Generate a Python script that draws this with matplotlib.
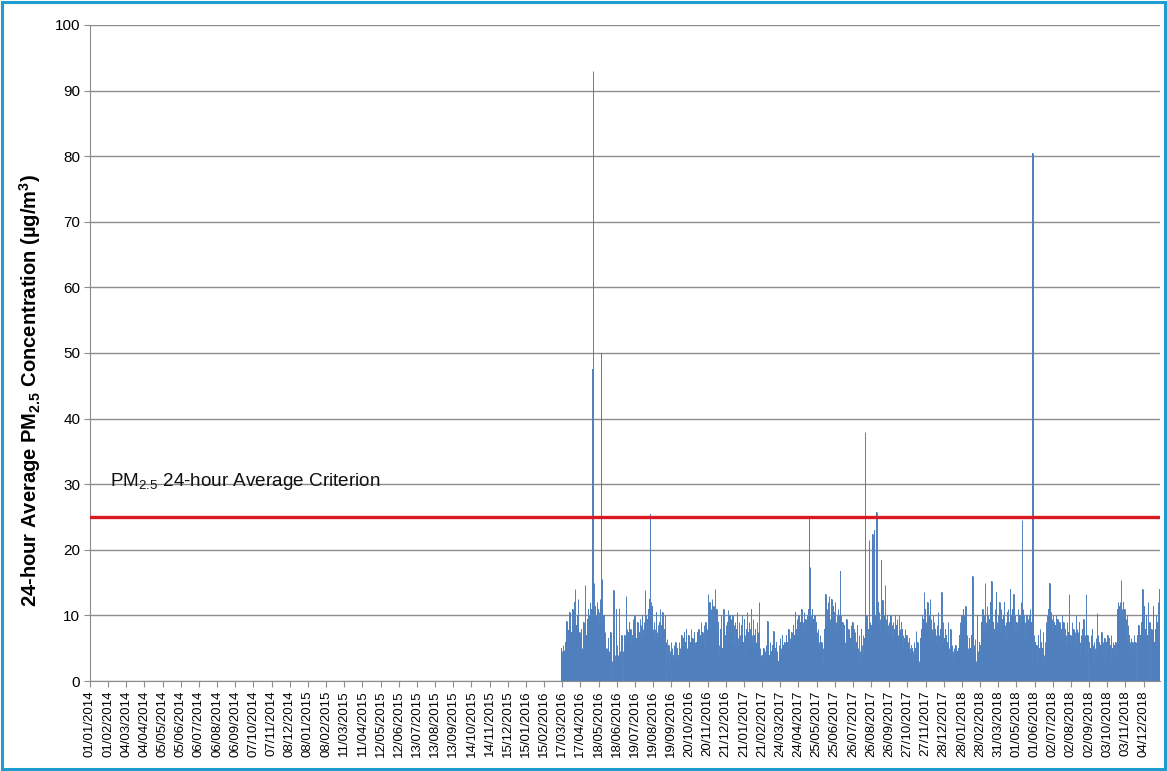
import numpy as np
import pandas as pd
import matplotlib
matplotlib.use("Agg")
import matplotlib.pyplot as plt
from matplotlib.patches import Rectangle

plt.rcParams['font.family'] = ['Liberation Sans', 'DejaVu Sans']
plt.rcParams['mathtext.fontset'] = 'custom'
plt.rcParams['mathtext.rm'] = 'Liberation Sans'
plt.rcParams['mathtext.it'] = 'Liberation Sans:italic'
plt.rcParams['mathtext.bf'] = 'Liberation Sans:bold'

# daily 24-hour average PM2.5 (ug/m3); None = no valid data that day
axis_start = '2014-01-01'
axis_end = '2018-12-31'
data_start = '2016-03-15'

pm25_2016 = [
    5, 4.5, 4, 5.5, 4.8, 4.2, None, 6, 8.5, 9.2, 7, 5.5, 7.8, 6.2, 10.5, 8, 6.5,  # Mar 15-31
    7.5, 9, 11, 8, 6.5, 12, 14, 9.5, 7, 8.5, 10, 12.5, 8, 6, 7.5,
    5.5, 6.5, 8, 5, 4.5, 7, 9, 6, 14.6, 8, 5.5, 7, 6.5, 9.5, 11,  # Apr
    8, 10, 12, 9, 11, 13, 47.5, 93, 15, 10, 9, 11.5, 8.5, 10, 12, 9.5,
    11, 10.5, 8, 12.5, 11, 50, 15.5, 11, 9, 10, 8, 7.5, 6, 5, 4.5,  # May
    5, 4, 6.5, 4.5, 3.5, 5, 7.5, 4, 3, None, 5, 13.8, 7, 4, 3,
    6, 11, 5.5, 4, 3.5, 11.2, 6, 4.5, 2.5, 5, 7, 3, 4.5, None, 6,  # Jun
    7, 5.5, 13, 10.5, 8, 6, 7.5, 5, 9, 6.5, 8, 5.5, 4.5, 7, 9.5, 6,
    8, 10, 7, 5.5, 6.5, 8, 9, 6, 5, 7.5, 9.5, 6, 8.5, 7, 10,  # Jul
    8, 6.5, 9, 7, 13.8, 10, 8, 6.5, 9.5, 7, 11, 12.5, 20.5, 25.5, 12, 9,
    11.5, 8, 7.5, 9, 6.5, 8, 7, 10.5, 7.5, 6, 8.5, 7, 9, 11, 6.5,  # Aug
    7, 8.5, 6, 10.5, 7.5, 5.5, 8, 10, 6, None, 6.4, 4, 3, 5.5, 2.5,
    4.5, 3.5, 6, 5, 3, 2.3, 4, 5.5, 3.5, 4.5, 6, 3, 4, 5, 3.5,  # Sep
    4, 6, 5, 3.5, 4.5, 7, 5.5, 4, 6.5, 5, 7.5, 4.5, 6, 8, 5, 4,
    6.5, 7, 5.5, 4.5, 6, 8, 7, 5, 6.5, 4, 5.5, 7.5, 6, 5, 4.5,  # Oct
    6, 7.5, 5, 8, 6.5, 4.5, 7, 9, 6, 5.5, 7.5, 6, 8.5, 5, 7,
    9, 6.5, 8, 7, 13.3, 10, 8.5, 12, 9.5, 11, 8, 12.5, 10, 9, 11.5,  # Nov
    9, 14, 10.5, 8, 11, 7.5, 6, 9, 5.5, 3.5, 8, 10, 7, 2.5, 5, 9.5,
    11, 6.5, 4, 7, 8.5, 5, 9, 10.8, 7, 8.5, 10, 6, 9.5, 5.5, 8,  # Dec
]

pm25_2017 = [
    10, 7, 8.5, 6, 9, 5.5, None, 8, 10.5, 6.5, 5, 9, 7, 4.5, 6, 8.5,
    10, 7.5, 5, 6, 9.5, 7, 4, 5.5, 8, 10.5, 6, 7.5, 9, 5, 6.5,  # Jan
    8, 11, 7, 6, 9.5, 5, 4.5, 7, 8, 6, 5.5, 9, 7.5, 6,
    12, 8, 5, 4, 3, 2.5, 4, 3.5, 5, 2, 4.5, 3, 5.5, 4,  # Feb
    2.5, 9.2, 5, 3.5, 4, 6, 3, 2, 4.5, 5.5, 3, 7.7, 4, 2.5, 5, 3.5,
    6, 4.5, 2, 3, 5.5, 4, 6.5, 3.5, 5, 4, 7, 3, 5.5, 4.5, 6,  # Mar
    5, 3.5, 7, 4.5, 6, 5, 8, 4, 6.5, 5.5, 3, 7.5, 6, 4.5, 8.5,
    5, 7, 10.5, 6, 8, 9.5, 7, 5.5, 10, 8, 6.5, 9, 7.5, 11, 8,  # Apr
    9, 7, 10.5, 8, 6, 9.5, 7.5, 8.5, 10, 9, 11, 24.8, 17.4, 12, 10, 9,
    11, 8.5, 9.5, 7, 10, 8, 6.5, 9, 7.5, 5, 8, 6, 4.5, 7, 5.5,  # May
    4, 6, 3.5, 5, 2.5, 4.5, 8, 10, 13.3, 9, 11, 8.5, 12, 10, 13,
    9.5, 8, 11, 12.5, 10, 9, 11.5, 8, 10.5, 12, 9, 7.5, 10, 8.5, 11,  # Jun
    9, 8, 10, 16.7, 10, 8, 6.5, 9, 7, 5, 8.5, 6, 4.5, 7.5, 9.5, 6,
    5, 8, 7, 4, 6.5, 8.5, 5.5, 7, 9, 6, 5, 8, 7.5, 4.5, 6,  # Jul
    6, 8.5, 5, 3, 7, 4.5, 2.3, 6, 8, 5.5, 4, 7, 3.5, 6.5, 38, 9,
    7, 10, 6, 4.5, 8, 21.5, 9, 6.5, 5, 8.5, 10, 22.4, 7, 9.5, 23,  # Aug
    8, 10, 6.5, 25.8, 9, 7, 12, 10.5, 8, 9.5, 6, 18.4, 8.5, 12.3, 9,
    7.5, 10, 14.6, 8, 9.5, 7, 10, 8.5, 6.5, 9, 7.5, 8, 10, 6.5, 8.5,  # Sep
    7, 9, 6.5, 8, 10, 7.5, 6, 8.5, 9.5, 7, 6, 10, 8, 7.5, 5.5, 9,
    6.5, 8, 7, 5, 6.5, 8, 6, 5.5, 7, 4.5, 6, 5, 4, 6.5, 5,  # Oct
    4, 5.5, 3.5, 5, 4.5, 3, 6, 4, 5, 7.7, 3.5, 4.5, 6, 5, 3,
    1.8, 4, 6.5, 5, 8, 10, 7, 9.5, 13.6, 8.5, 11, 9, 7.5, 10.5, 12,  # Nov
    9, 8, 10, 12.5, 7, 9.5, 8, 6.5, 10, 7.5, 9, 6, 8, 7, 5.5, 8.5,
    6, 10.5, 7, 4.5, 6, 8, 5, 13.6, 7, 9, 5.5, 4, 6.5, 8, 5,  # Dec
]

pm25_2018 = [
    7, 4.5, 6, 9, 5, 3.5, 6.5, 8, 4, 5.5, 3.5, 4.5, 3, 5, 4, 3.5,
    5.5, 4, 3, 4.5, 3.5, 5, 7, 9, 6, 8.5, 10, 7.5, 9, 11, 8,  # Jan
    10, 8, 11.5, 9, 7, 6, 5, 4, 6.5, 3, 5, 4.5, 7, 9,
    16, 8, 5.5, 4, 6.4, 3, 2.3, 5, 10, 4.5, 3.5, 6, 4, 5.5,  # Feb
    7, 9, 6.5, 11, 8, 10, 7.5, 15, 9, 8, 11.5, 7, 10, 8.5, 6, 9.5,
    12, 8, 15.2, 10, 7, 9, 6.5, 8, 11, 8, 13.6, 9, 7, 10, 8,  # Mar
    9, 12, 7.5, 11, 8, 6, 9.5, 10, 7, 12, 8.5, 6.5, 9, 7, 10.5,
    11, 8, 6, 9, 14, 7.5, 10, 8, 11, 6.5, 13.3, 7, 10, 8, 6,  # Apr
    9, 7, 11, 8.5, 6, 10, 8, 12, 9, 24.5, 11, 8, 10, 7.5, 9, 6,
    8.5, 10, 7, 9.5, 8, 6.5, 10, 11, 8, 9, 12, 80.5, 18.4, 7, 5,  # May
    4, 6, 3, 5.5, 2, 4.5, 7, 3.5, 5, 8, 4, 6, 3, 5, 7.5,
    4, 2.5, 6, 5, 9, 7.5, 10, 8, 11, 9, 14.9, 7, 10.5, 8.5, 9.5,  # Jun
    8, 10, 7, 9, 6, 8.5, 10, 7.5, 9, 9.5, 8, 6, 9, 7, 5.5, 8,
    10, 6.5, 7, 9, 5, 6.5, 8, 7, 5.5, 9, 6, 7.5, 13.3, 8.5, 6,  # Jul
    7, 5.5, 9, 6.5, 4.5, 8, 6, 7.5, 5, 10, 6.5, 8, 7.5, 7, 5.5, 9,
    6, 4, 7, 5.5, 8, 6, 9.5, 5, 7, 4.5, 13.3, 8, 5, 7, None,  # Aug
    4, 6, 3.5, 5, 7, 4.5, 8, 5.5, 3, 6, 5, 4, 6.5, 3.5, 10.3,
    5, 7, 4, 6, 3, 5.5, 4.5, 7.5, 3.5, 6, 5, 4, 6.5, 3, 5,  # Sep
    6, 4.5, 7, 5, 3.5, 6.5, 4, 5.5, 7, 3, 5, 6, 4.5, 3.5, 5.5, 4,
    6, 3, None, 11, 12, 10, 11.5, 12, 10, 15.4, 9.5, 11, 10, 12, 9,  # Oct
    11, 8, 9.5, 7, 10, 6, 8.5, 5.5, 7, 6, 5, 6.5, 4.5, 5.5, 6,
    5, 7, 4, 5.5, 6, None, 5, 7, 6, 8.5, 5, 4, 7, 6, 9,  # Nov
    8, 14, 9, 7, 11.5, 6, 8, 10, 5.5, 7, 12, 6, 8, 9, None, 6,
    8, 5, 7.5, 11.5, 4, 6, None, 8, 10, 7, 9, 12, 6, 11, 14,  # Dec
]

criterion = 25

t0 = pd.Timestamp(axis_start)
n_days = (pd.Timestamp(axis_end) - t0).days + 1
values = np.array(pm25_2016 + pm25_2017 + pm25_2018, dtype=float)
first = (pd.Timestamp(data_start) - t0).days
day = first + np.arange(len(values))

fig = plt.figure(figsize=(11.67, 7.71), dpi=100)
ax = fig.add_axes([0.0771, 0.1167, 0.9169, 0.851])

bar_color = '#4f80bd'
ok = ~np.isnan(values)
ax.bar(day[ok] + 0.5, values[ok], width=1.0, color=bar_color, linewidth=0)
# one-day bars are narrower than a pixel, so trace each one as a thin line too
ax.vlines(day[ok] + 0.5, 0, values[ok], color=bar_color, linewidth=0.7)

ax.axhline(criterion, color='#d9181f', linewidth=2.4, zorder=3)
ax.text(34, 30.4, 'PM$_{2.5}$ 24-hour Average Criterion', fontsize=13.6,
        va='center', ha='left', color='#111111')

ax.set_xlim(0, n_days)
ax.set_ylim(0, 100)
ax.set_yticks(np.arange(0, 101, 10))
ax.tick_params(axis='y', labelsize=11, length=4, color='#8c8c8c', pad=3)
ax.grid(axis='y', color='#8c8c8c', linewidth=1)
ax.set_axisbelow(True)

tick_dates = pd.date_range(axis_start, axis_end, freq='31D')
ax.set_xticks((tick_dates - t0).days)
ax.set_xticklabels(tick_dates.strftime('%d/%m/%Y'), rotation=90, fontsize=9.5)
ax.tick_params(axis='x', length=4, color='#8c8c8c', pad=3)

for side in ['top', 'right']:
    ax.spines[side].set_visible(False)
for side in ['left', 'bottom']:
    ax.spines[side].set_color('#8c8c8c')

fig.text(0.026, 0.493, r'24-hour Average PM$_{\mathbf{2.5}}$ Concentration (µg/m$^{\mathbf{3}}$)',
         rotation=90, fontsize=14.5, fontweight='bold', va='center', ha='center')

fig.patches.append(Rectangle((0.0015, 0.002), 0.997, 0.996, transform=fig.transFigure,
                             fill=False, edgecolor='#1e9bcf', linewidth=2.2))

fig.savefig('out.png', dpi=100)
